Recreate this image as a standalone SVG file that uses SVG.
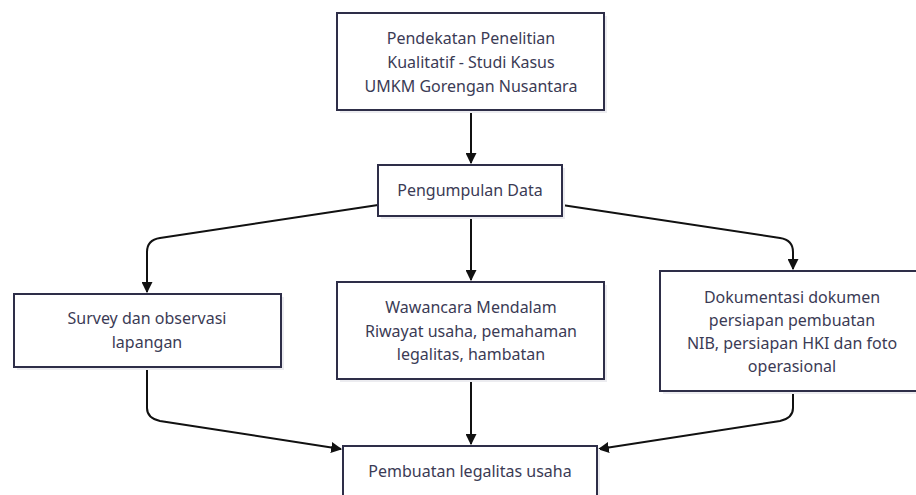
<svg xmlns="http://www.w3.org/2000/svg" width="916" height="495" viewBox="0 0 916 495">
<defs>
<style>
.box{fill:#ffffff;stroke:#2e2e48;stroke-width:2}
.sh{fill:#ececf0}
.lbl{font-family:"Noto Sans","Open Sans",sans-serif;font-size:16px;fill:#3b3b55;text-anchor:middle;dominant-baseline:central}
.edge{fill:none;stroke:#111111;stroke-width:2}
</style>
<marker id="arr" viewBox="0 0 10 10" refX="9" refY="5" markerWidth="11" markerHeight="11" markerUnits="userSpaceOnUse" orient="auto">
<path d="M0,0 L10,5 L0,10 z" fill="#111111"/>
</marker>
</defs>
<rect width="916" height="495" fill="#ffffff"/>
<g id="connectors">
<path class="edge" d="M471,110 L471,163" marker-end="url(#arr)"/>
<path class="edge" d="M378,205 L160,238 Q147,240 147,252 L147,292" marker-end="url(#arr)"/>
<path class="edge" d="M471,216 L471,280" marker-end="url(#arr)"/>
<path class="edge" d="M562,205 L780,238 Q793,240 793,252 L793,269" marker-end="url(#arr)"/>
<path class="edge" d="M147,367 L147,408 Q147,418 160,421 L341,449" marker-end="url(#arr)"/>
<path class="edge" d="M471,379 L471,444" marker-end="url(#arr)"/>
<path class="edge" d="M793,390 L793,408 Q793,418 780,421 L599,449" marker-end="url(#arr)"/>
</g>
<g id="n1">
<rect class="sh" x="340" y="16" width="267" height="97"/>
<rect class="box" x="337" y="13" width="267" height="97"/>
<text class="lbl" x="471" y="38">Pendekatan Penelitian</text>
<text class="lbl" x="471" y="62">Kualitatif - Studi Kasus</text>
<text class="lbl" x="471" y="86">UMKM Gorengan Nusantara</text>
</g>
<g id="n2">
<rect class="sh" x="381" y="168" width="184" height="51"/>
<rect class="box" x="378" y="165" width="184" height="51"/>
<text class="lbl" x="470" y="190">Pengumpulan Data</text>
</g>
<g id="n3">
<rect class="sh" x="17" y="297" width="267" height="73"/>
<rect class="box" x="14" y="294" width="267" height="73"/>
<text class="lbl" x="147" y="318">Survey dan observasi</text>
<text class="lbl" x="147" y="342">lapangan</text>
</g>
<g id="n4">
<rect class="sh" x="340" y="285" width="267" height="97"/>
<rect class="box" x="337" y="282" width="267" height="97"/>
<text class="lbl" x="471" y="307">Wawancara Mendalam</text>
<text class="lbl" x="471" y="331">Riwayat usaha, pemahaman</text>
<text class="lbl" x="471" y="354">legalitas, hambatan</text>
</g>
<g id="n5">
<rect class="sh" x="663" y="274" width="266" height="120"/>
<rect class="box" x="660" y="271" width="266" height="120"/>
<text class="lbl" x="792" y="297">Dokumentasi dokumen</text>
<text class="lbl" x="792" y="320">persiapan pembuatan</text>
<text class="lbl" x="792" y="343">NIB, persiapan HKI dan foto</text>
<text class="lbl" x="792" y="366">operasional</text>
</g>
<g id="n6">
<rect class="sh" x="346" y="449" width="254" height="51"/>
<rect class="box" x="343" y="446" width="254" height="51"/>
<text class="lbl" x="470" y="471">Pembuatan legalitas usaha</text>
</g>
</svg>
